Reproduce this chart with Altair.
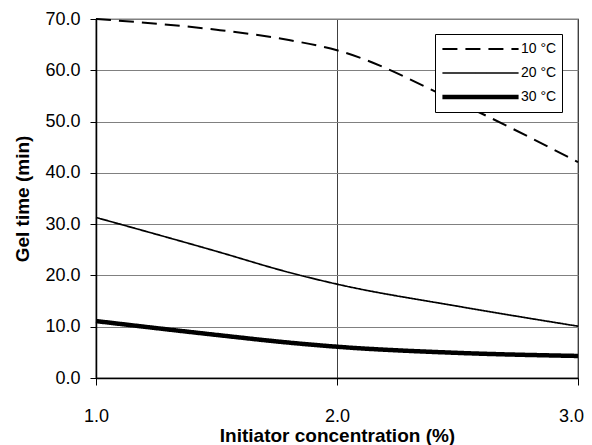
import altair as alt
import pandas as pd

conc = [1.0, 1.5, 1.8, 2.0, 2.5, 3.0]
gel_10 = [70.0, 67.9, 65.9, 63.9, 53.8, 42.1]
gel_20 = [31.3, 24.7, 20.6, 18.3, 14.0, 10.1]
gel_30 = [11.1, 8.4, 6.9, 6.1, 4.9, 4.3]
series = ["10 °C", "20 °C", "30 °C"]

rows = []
for name, vals in zip(series, [gel_10, gel_20, gel_30]):
    for x, y in zip(conc, vals):
        rows.append({"conc": x, "gel": y, "series": name})
df = pd.DataFrame(rows)

legend = alt.Legend(
    title=None, orient="none", legendX=339, legendY=15,
    strokeColor="black", fillColor="white", padding=5,
    symbolType="stroke", symbolSize=5800, symbolStrokeColor="black",
    clipHeight=20, labelFont="Liberation Sans",
    labelFontSize=14, labelColor="black", rowPadding=4, labelOffset=0,
)

chart = alt.Chart(df).mark_line(interpolate="monotone", color="black").encode(
    x=alt.X("conc:Q", scale=alt.Scale(domain=[1, 3], nice=False),
            axis=alt.Axis(values=[1.0, 2.0, 3.0], format=".1f", labelFlush=False,
                          labelOffset=alt.ExprRef(expr="datum.value == 3 ? -7 : 0"),
                          title="Initiator concentration (%)",
                          gridColor="#404040", tickColor="black", domainColor="black",
                          tickSize=7, labelPadding=22, titlePadding=1)),
    y=alt.Y("gel:Q", scale=alt.Scale(domain=[0, 70], nice=False),
            axis=alt.Axis(values=[0, 10, 20, 30, 40, 50, 60, 70], format=".1f",
                          labelFlush=False,
                          title="Gel time (min)", gridColor="#808080",
                          tickColor="black", domainColor="black",
                          tickSize=6, labelPadding=10, titlePadding=12)),
    strokeDash=alt.StrokeDash("series:O", scale=alt.Scale(type="ordinal", domain=series, range=[[15, 8], [1, 0], [1, 0]]), legend=legend),
    strokeWidth=alt.StrokeWidth("series:O", scale=alt.Scale(type="ordinal", domain=series, range=[2, 1.7, 4.5]), legend=legend),
).properties(
    width=482, height=359,
    autosize=alt.AutoSizeParams(type="none"),
    padding={"left": 88, "top": 11, "right": 6, "bottom": 70},
).configure_view(stroke="black", strokeWidth=1.2).configure_axis(
    labelFont="Liberation Sans", labelFontSize=18, labelColor="black",
    titleFont="Liberation Sans", titleFontSize=19, titleFontWeight="bold", titleColor="black",
    gridWidth=1, domainWidth=1.5,
)

chart.save("out.html", embed_options={"renderer": "svg", "actions": False})
